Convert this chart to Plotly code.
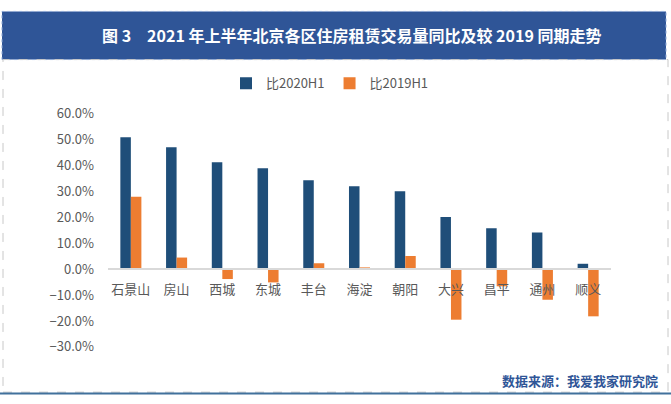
import plotly.graph_objects as go

categories = ["石景山", "房山", "西城", "东城", "丰台", "海淀", "朝阳", "大兴", "昌平", "通州", "顺义"]
vs_2020h1 = [0.510, 0.471, 0.413, 0.390, 0.344, 0.320, 0.301, 0.202, 0.158, 0.142, 0.021]
vs_2019h1 = [0.280, 0.045, -0.038, -0.051, 0.023, 0.007, 0.051, -0.195, -0.066, -0.118, -0.182]
series_names = ["比2020H1", "比2019H1"]
y_ticks = [-0.3, -0.2, -0.1, 0.0, 0.1, 0.2, 0.3, 0.4, 0.5, 0.6]
title_text = "图 3　2021 年上半年北京各区住房租赁交易量同比及较 2019 同期走势"
source_text = "数据来源：我爱我家研究院"

W, H = 671, 404
FONT = "Noto Sans CJK SC"
BLUE = "#1F4E79"
ORANGE = "#ED7D31"
BANNER = "#2F5597"

def px_x(x):
    return x / W

def px_y(y):
    return 1 - y / H

ydom = [px_y(353.5), px_y(109)]
yrange = [-0.3, 0.6]
zero_pos = ydom[0] + (0 - yrange[0]) / (yrange[1] - yrange[0]) * (ydom[1] - ydom[0])

fig = go.Figure()
fig.add_trace(go.Bar(x=categories, y=vs_2020h1, name=series_names[0], marker_color=BLUE,
                     marker_line_width=0))
fig.add_trace(go.Bar(x=categories, y=vs_2019h1, name=series_names[1], marker_color=ORANGE,
                     marker_line_width=0))

fig.update_layout(
    width=W, height=H,
    margin=dict(l=0, r=0, t=0, b=0),
    paper_bgcolor="white", plot_bgcolor="rgba(0,0,0,0)",
    barmode="group", bargap=0.54, bargroupgap=0.0,
    font=dict(family=FONT, color="#595959", size=13),
    showlegend=True,
    legend=dict(orientation="h", x=px_x(330), xanchor="center", y=px_y(77), yanchor="middle",
                font=dict(size=13, color="#595959"), itemwidth=30, tracegroupgap=0,
                itemclick=False, bgcolor="rgba(0,0,0,0)"),
    xaxis=dict(domain=[px_x(108), px_x(611)], anchor="free", position=zero_pos,
               showline=True, linecolor="#D9D9D9", linewidth=1.5, ticks="",
               ticklabelstandoff=8,
               showgrid=False, tickfont=dict(size=13, color="#595959"), fixedrange=True),
    yaxis=dict(domain=ydom, range=yrange, tickvals=y_ticks, tickformat=".1%",
               showgrid=False, zeroline=False, showline=False, ticks="",
               ticklabelstandoff=13,
               tickfont=dict(size=13, color="#595959"), fixedrange=True),
)

# banner
fig.add_shape(type="rect", xref="paper", yref="paper", x0=px_x(2), x1=px_x(666),
              y0=px_y(52), y1=px_y(1.5), fillcolor=BANNER,
              line=dict(color="#8FA9D6", width=1, dash="dot"), layer="below")
# chart frame
fig.add_shape(type="rect", xref="paper", yref="paper", x0=px_x(3), x1=px_x(668),
              y0=px_y(401), y1=px_y(52), fillcolor="rgba(0,0,0,0)",
              line=dict(color="#C8C8C8", width=1, dash="dash"), layer="below")
fig.add_shape(type="line", xref="paper", yref="paper", x0=0, x1=1,
              y0=px_y(402.5), y1=px_y(402.5), line=dict(color="#41719C", width=2))

fig.add_annotation(xref="paper", yref="paper", x=px_x(352), y=px_y(26.5), text="<b>" + title_text + "</b>",
                   showarrow=False, xanchor="center", yanchor="middle",
                   font=dict(family=FONT, size=16, color="white"))
fig.add_annotation(xref="paper", yref="paper", x=px_x(660), y=px_y(389), text="<b>" + source_text + "</b>",
                   showarrow=False, xanchor="right", yanchor="middle",
                   font=dict(family=FONT, size=13, color=BANNER))

post = ("document.documentElement.style.margin='0';document.body.style.margin='0';"
        "document.body.style.padding='0';document.body.style.overflow='hidden';"
        "var d=document.getElementById('{plot_id}');d.style.position='fixed';"
        "d.style.top='0px';d.style.left='0px';")
fig.write_html("out.html", config={"displayModeBar": False}, post_script=post)
